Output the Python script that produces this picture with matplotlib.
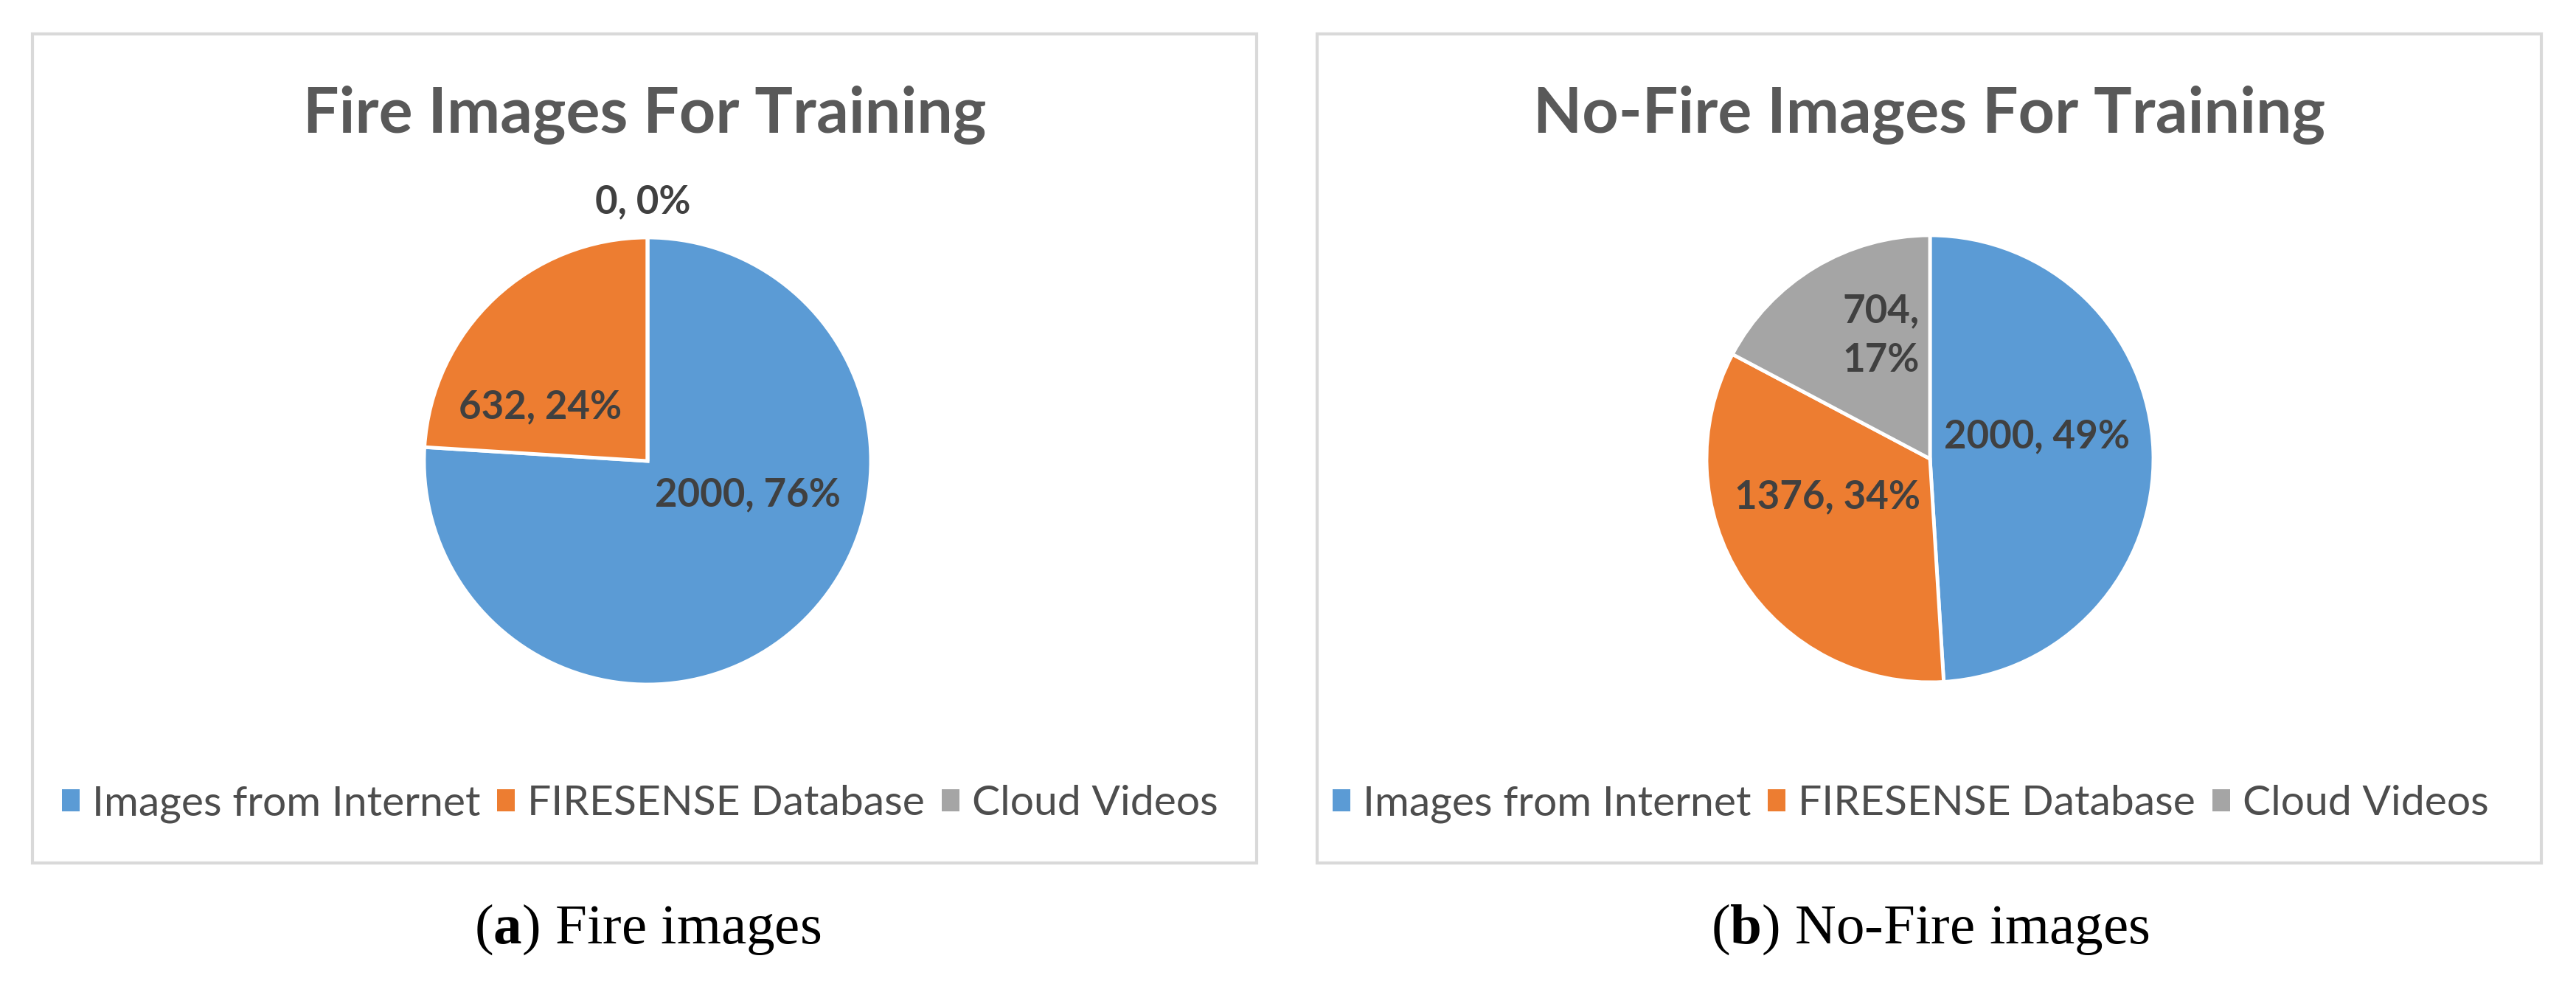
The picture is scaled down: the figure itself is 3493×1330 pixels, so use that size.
import matplotlib

matplotlib.use("Agg")
import matplotlib.pyplot as plt
from matplotlib.patches import Patch, Rectangle

W, H = 3493, 1330

# --- data ---
categories = ["Images from Internet", "FIRESENSE Database", "Cloud Videos"]
fire_counts = [2000, 632, 0]
nofire_counts = [2000, 1376, 704]
colors = ["#5B9BD5", "#ED7D31", "#A5A5A5"]
titles = ["Fire Images For Training", "No-Fire Images For Training"]
captions = [r"($\mathbf{a}$) Fire images", r"($\mathbf{b}$) No-Fire images"]

# --- layout (pixels in the 3493x1330 canvas) ---
boxes = [(44, 46, 1704, 1170), (1786, 46, 3446, 1170)]
centers = [(878, 625), (2617, 622)]
legend_x = [868, 2591]
R = 303
# label offsets in pie-radius units, one per wedge
label_pos = [
    [(0.45, -0.15), (-0.48, 0.24), (-0.02, 1.16)],
    [(0.48, 0.10), (-0.46, -0.17), (-0.22, 0.55)],
]
label_fmt = [["{v}, {p}%", "{v}, {p}%", "{v}, {p}%"],
             ["{v}, {p}%", "{v}, {p}%", "{v},\n{p}%"]]

plt.rcParams["font.family"] = ["Lato", "DejaVu Sans"]
plt.rcParams["mathtext.fontset"] = "custom"
plt.rcParams["mathtext.rm"] = "Liberation Serif"
plt.rcParams["mathtext.bf"] = "Liberation Serif:bold"

fig = plt.figure(figsize=(W / 100, H / 100), dpi=100)


def fx(x):
    return x / W


def fy(y):
    return 1 - y / H


for i, counts in enumerate([fire_counts, nofire_counts]):
    x0, y0, x1, y1 = boxes[i]
    fig.add_artist(Rectangle((fx(x0), fy(y1)), (x1 - x0) / W, (y1 - y0) / H,
                             transform=fig.transFigure, fill=False,
                             edgecolor="#D9D9D9", linewidth=3))
    cx, cy = centers[i]
    ax = fig.add_axes([fx(cx - R), fy(cy + R), 2 * R / W, 2 * R / H])
    ax.pie(counts, colors=colors, startangle=90, counterclock=False, radius=1,
           wedgeprops=dict(edgecolor="white", linewidth=3.5))
    ax.set_xlim(-1, 1)
    ax.set_ylim(-1, 1)
    ax.set_aspect("auto")
    ax.axis("off")

    total = sum(counts)
    for j, v in enumerate(counts):
        p = round(100 * v / total)
        dx, dy = label_pos[i][j]
        ax.text(dx, dy, label_fmt[i][j].format(v=v, p=p), ha="center", va="center",
                fontsize=38, fontweight="bold", color="#404040", clip_on=False,
                linespacing=1.45)

    tx = (x0 + x1) / 2
    fig.text(fx(tx), fy(156), titles[i], ha="center", va="center",
             fontsize=62, fontweight="bold", color="#595959")

    handles = [Patch(facecolor=c, edgecolor="none") for c in colors]
    fig.legend(handles, categories, loc="center",
               bbox_to_anchor=(fx(legend_x[i]), fy(1090)), ncol=3,
               frameon=False, fontsize=41, labelcolor="#4D4D4D",
               handlelength=0.42, handleheight=0.45, handletextpad=0.3,
               columnspacing=0.4)

    fig.text(fx(cx), fy(1279), captions[i], ha="center", va="baseline",
             fontsize=55.5, color="black", family="Liberation Serif")

fig.savefig("out.png", dpi=100, facecolor="white")
